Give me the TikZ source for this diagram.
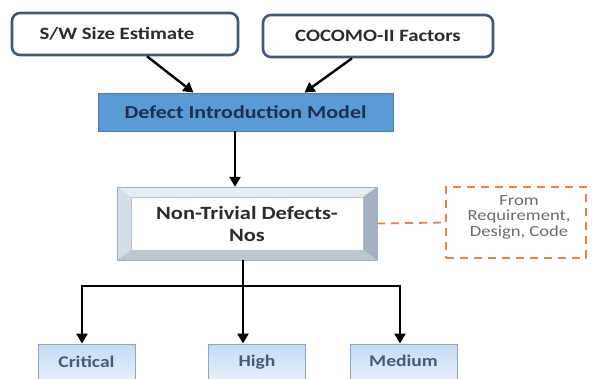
\documentclass[tikz,border=0pt]{standalone}
\usepackage{fontspec}
\setmainfont{Carlito}[FakeStretch=1.2]
\usetikzlibrary{arrows.meta}
\definecolor{topedge}{HTML}{41597A}
\definecolor{dimfill}{HTML}{5B9BD5}
\definecolor{dimedge}{HTML}{4A7EBB}
\definecolor{dimtext}{HTML}{1F2F4F}
\definecolor{darktext}{HTML}{2B2B2B}
\definecolor{orangeedge}{HTML}{E2844A}
\definecolor{graytext}{HTML}{6B6B6B}
\definecolor{lvtop}{HTML}{C3DBF6}
\definecolor{lvbot}{HTML}{E9F2FC}
\definecolor{lvedge}{HTML}{8AA8CC}
\definecolor{lvtext}{HTML}{4A5A70}
\definecolor{bevlight}{HTML}{E6ECF3}
\definecolor{bevleft}{HTML}{D5DEE8}
\definecolor{bevright}{HTML}{A3B1C2}
\definecolor{bevbot}{HTML}{BCC6D2}
\tikzset{
  inputbox/.style={draw=topedge, line width=2.6pt, rounded corners=8pt, fill=white,
    minimum width=#1, minimum height=42pt, inner sep=0pt,
    font=\fontsize{17.3}{19}\selectfont\bfseries, text=darktext},
  modelbox/.style={draw=dimedge, line width=0.8pt, fill=dimfill, minimum width=295pt,
    minimum height=38pt, inner sep=0pt, font=\fontsize{18.3}{20}\selectfont\bfseries, text=dimtext},
  levelbox/.style={draw=lvedge, line width=0.8pt, top color=lvtop, bottom color=lvbot,
    minimum width=#1, minimum height=40pt, inner sep=0pt},
  leveltext/.style={text=lvtext, font=\fontsize{16.3}{18}\selectfont\bfseries},
  notebox/.style={draw=orangeedge, line width=1.8pt, dash pattern=on 8pt off 6pt,
    minimum width=140pt, minimum height=71pt, inner sep=0pt},
  notetext/.style={align=center, text=graytext, font=\fontsize{15.5}{15.5}\selectfont},
  arr/.style={draw=black, line width=2.4pt, -{Triangle[length=10pt,width=11pt]}},
  plainline/.style={draw=black, line width=2.4pt},
  link/.style={draw=orangeedge, line width=1.8pt, dash pattern=on 8pt off 6pt}
}
\begin{document}
\begin{tikzpicture}[x=1pt,y=-1pt]
\useasboundingbox (0,0) rectangle (595,378);
\clip (0,0) rectangle (595,378);
% input boxes
\node[inputbox=226pt] (sw) at (125,34) {S/W Size Estimate\kern16pt};
\node[inputbox=230pt] (cf) at (378,36) {COCOMO-II Factors};
% model
\node[modelbox] (dim) at (245.5,112) {Defect Introduction Model};
% bevel box
\node[minimum width=260pt, minimum height=73pt, inner sep=0pt] (nt) at (247,223.5) {};
\fill[bevlight] (nt.north west) -- (nt.north east) -- ++(-14,10) -- ([xshift=14,yshift=-10]nt.north west) -- cycle;
\fill[bevleft] (nt.north west) -- ([xshift=14,yshift=-10]nt.north west) -- ([xshift=14,yshift=10]nt.south west) -- (nt.south west) -- cycle;
\fill[bevright] (nt.north east) -- (nt.south east) -- ([xshift=-14,yshift=10]nt.south east) -- ([xshift=-14,yshift=-10]nt.north east) -- cycle;
\fill[bevbot] (nt.south west) -- ([xshift=14,yshift=10]nt.south west) -- ([xshift=-14,yshift=10]nt.south east) -- (nt.south east) -- cycle;
\fill[white] ([xshift=14,yshift=-10]nt.north west) rectangle ([xshift=-14,yshift=10]nt.south east);
\draw[draw=bevright, line width=0.6pt] (nt.north west) rectangle (nt.south east);
\draw[draw=bevright!80, line width=0.4pt] ([xshift=14,yshift=-10]nt.north west) rectangle ([xshift=-14,yshift=10]nt.south east);
\node[align=center, font=\fontsize{18.7}{22}\selectfont\bfseries, text=darktext] (ntt) at (247,224) {Non-Trivial Defects-\\Nos};
% note
\node[notebox] (note) at (516,222.5) {};
\node[notetext] (notet) at (519,217) {From\\Requirement,\\Design, Code};
\draw[link] (nt.east) -- (note.west);
% levels
\node[levelbox=97pt] (crit) at (86.5,364) {};
\node[levelbox=97pt] (high) at (256.5,364) {};
\node[levelbox=107pt] (med) at (403.5,364) {};
\node[leveltext] (critt) at (86.5,362) {Critical};
\node[leveltext] (hight) at (257,362) {High};
\node[leveltext] (medt) at (403.5,361) {Medium};
% connectors
\draw[arr] ([xshift=22pt]sw.south) -- ([xshift=-52pt]dim.north);
\draw[arr] ([xshift=-26pt]cf.south) -- ([xshift=59pt]dim.north);
\draw[arr] ([xshift=-10.5pt]dim.south) -- ([xshift=-12pt]nt.north);
\coordinate (j) at (243,286);
\draw[plainline] ([xshift=-4pt]nt.south) -- (j);
\draw[arr] (j) -| ([xshift=-4.5pt]crit.north);
\draw[arr] (j) -- ([xshift=-13.5pt]high.north);
\draw[arr] (j) -| ([xshift=-3.5pt]med.north);
\end{tikzpicture}
\end{document}
